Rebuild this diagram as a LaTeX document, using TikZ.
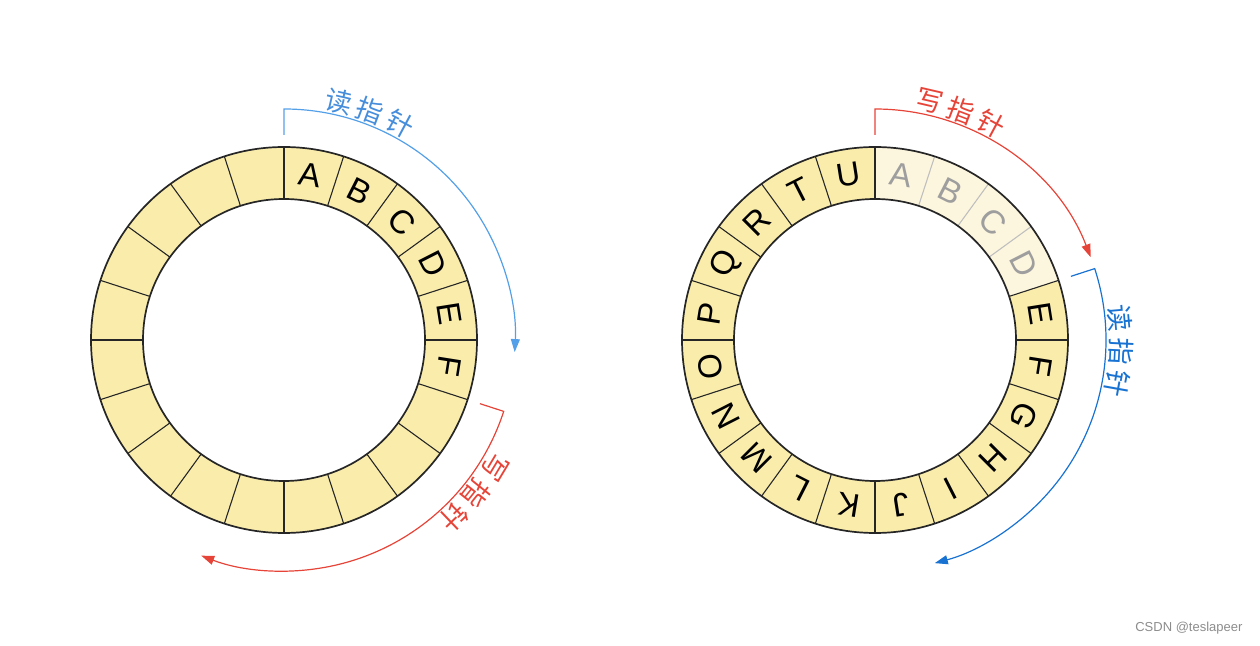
\documentclass[tikz,border=0pt]{standalone}
\usepackage{fontspec}
\setmainfont{Liberation Sans}
\newfontfamily\cnfont{Noto Sans CJK SC}
\usetikzlibrary{arrows.meta}
\definecolor{ringfill}{RGB}{250,237,172}
\definecolor{fadefill}{RGB}{253,246,222}
\definecolor{ptrred}{RGB}{230,68,56}
\definecolor{ptrblue}{RGB}{84,160,232}
\definecolor{ptrblueD}{RGB}{24,114,210}
\begin{document}
\begin{tikzpicture}[
  x=1pt, y=1pt, >={Triangle[length=13pt, width=9pt]},
  ring/.style={draw=black!85, line width=1.7pt},
  sep/.style={draw=black!85, line width=1.1pt},
  sepf/.style={draw=black!25, line width=1.1pt},
  lt/.style={font=\fontsize{33}{33}\selectfont, inner sep=0pt},
  ltf/.style={lt, text=black!38},
  cn/.style={font=\cnfont\fontsize{27}{27}\selectfont, inner sep=0pt},
  rp/.style={draw=ptrred, line width=1.2pt},
  bp/.style={draw=ptrblue, line width=1.2pt},
  bpd/.style={draw=ptrblueD, line width=1.2pt}]
\useasboundingbox (0,0) rectangle (1260,645);
\coordinate (L) at (284,305);
\coordinate (R) at (875,305);
\begin{scope}[shift={(L)}]
\fill[ringfill, even odd rule] (0,0) circle[radius=193pt] (0,0) circle[radius=141pt];
\foreach \a in {0,18,...,342} \draw[sep] (\a:141) -- (\a:193);
\draw[ring] (0,0) circle[radius=193pt] (0,0) circle[radius=141pt];
\foreach \ch [count=\i from 0, evaluate=\i as \a using 81-18*\i] in {A,B,C,D,E,F}
  \node[lt, rotate=\a-90] (l\ch) at (\a:167) {\ch};
\coordinate (lb0) at (90:205);
\coordinate (lb1) at (90:231);
\draw[bp, ->] (lb0) -- (lb1) arc[start angle=90, end angle=-3, radius=231pt];
\foreach \c [count=\i from 0, evaluate=\i as \a using 77-7.6*\i] in {读,指,针}
  \node[cn, text=ptrblueD!80, rotate=\a-90] (lbt\i) at (\a:245) {\c};
\coordinate (lr0) at (-18:206);
\coordinate (lr1) at (-18:231);
\draw[rp, ->] (lr0) -- (lr1) arc[start angle=-18, end angle=-111, radius=231pt];
\foreach \c [count=\i from 0, evaluate=\i as \a using -31-7.6*\i] in {写,指,针}
  \node[cn, text=ptrred, rotate=\a-90] (lrt\i) at (\a:246) {\c};
\end{scope}
\begin{scope}[shift={(R)}]
\fill[ringfill, even odd rule] (0,0) circle[radius=193pt] (0,0) circle[radius=141pt];
\fill[fadefill] (90:193) arc[start angle=90, end angle=18, radius=193pt] -- (18:141) arc[start angle=18, end angle=90, radius=141pt] -- cycle;
\foreach \a in {0,18,90,108,...,342} \draw[sep] (\a:141) -- (\a:193);
\foreach \a in {36,54,72} \draw[sepf] (\a:141) -- (\a:193);
\draw[ring] (0,0) circle[radius=193pt] (0,0) circle[radius=141pt];
\foreach \ch [count=\i from 0, evaluate=\i as \a using 81-18*\i] in {A,B,C,D}
  \node[ltf, rotate=\a-90] (r\ch) at (\a:167) {\ch};
\foreach \ch [count=\i from 4, evaluate=\i as \a using 81-18*\i] in {E,F,G,H,I,J,K,L,M,N,O,P,Q,R,T,U}
  \node[lt, rotate=\a-90] (r\ch) at (\a:167) {\ch};
\coordinate (rr0) at (90:205);
\coordinate (rr1) at (90:231);
\draw[rp, ->] (rr0) -- (rr1) arc[start angle=90, end angle=21, radius=231pt];
\foreach \c [count=\i from 0, evaluate=\i as \a using 77-7.6*\i] in {写,指,针}
  \node[cn, text=ptrred, rotate=\a-90] (rrt\i) at (\a:245) {\c};
\coordinate (rb0) at (18:206);
\coordinate (rb1) at (18:231);
\draw[bpd, ->] (rb0) -- (rb1) arc[start angle=18, end angle=-75, radius=231pt];
\foreach \c [count=\i from 0, evaluate=\i as \a using 5-7.6*\i] in {读,指,针}
  \node[cn, text=ptrblueD, rotate=\a-90] (rbt\i) at (\a:246) {\c};
\end{scope}
\node[font=\fontsize{13}{13}\selectfont, text=black!45, anchor=east] (wm) at (1246,17) {CSDN @teslapeer};
\end{tikzpicture}
\end{document}
